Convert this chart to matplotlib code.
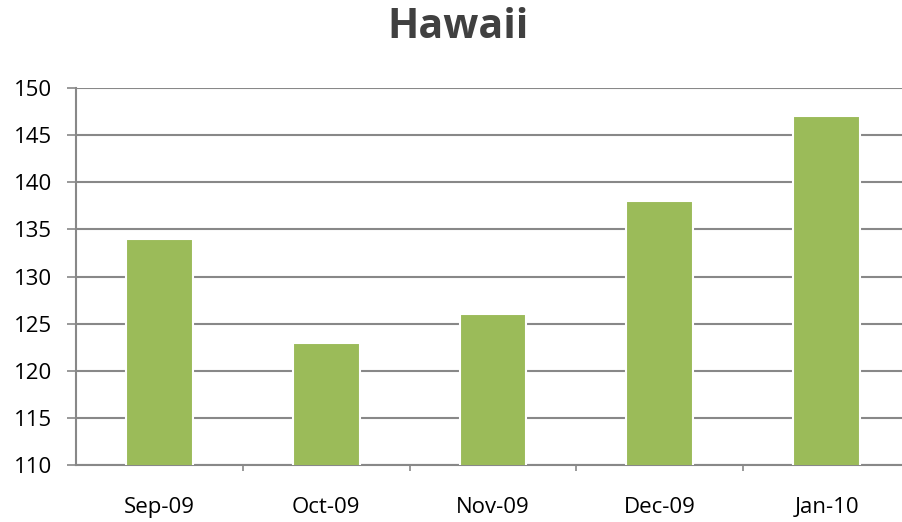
import matplotlib.pyplot as plt

# data
months = ["Sep-09", "Oct-09", "Nov-09", "Dec-09", "Jan-10"]
values = [134, 123, 126, 138, 147]
y_ticks = [110, 115, 120, 125, 130, 135, 140, 145, 150]

plt.rcParams["font.family"] = ["Open Sans", "DejaVu Sans"]

fig = plt.figure(figsize=(9.02, 5.22), dpi=100)
# plot area runs a little past the right edge, like the cropped original
ax = fig.add_axes([0.0843, 0.109, 0.9246, 0.7224])

x = list(range(len(months)))
ax.bar(x, values, width=0.4, color="#9BBB59", edgecolor="white",
       linewidth=1.5, zorder=3)

ax.set_ylim(110, 150)
ax.set_xlim(-0.5, len(months) - 0.5)
ax.set_yticks(y_ticks)
ax.set_xticks(x)
ax.set_xticklabels(months)

# category tick marks between groups
ax.set_xticks([i + 0.5 for i in range(len(months) - 1)], minor=True)
ax.tick_params(axis="x", which="major", length=0, pad=23, labelsize=16)
ax.tick_params(axis="x", which="minor", length=4.5, width=1.2, color="#888888")
ax.tick_params(axis="y", length=6.5, width=1.2, color="#888888", labelsize=16,
               pad=11)

ax.grid(axis="y", color="#888888", linewidth=1.5, zorder=0)

for side in ["top", "right"]:
    ax.spines[side].set_visible(False)
for side in ["left", "bottom"]:
    ax.spines[side].set_color("#888888")
    ax.spines[side].set_linewidth(1.5)

fig.text(0.508, 0.947, "Hawaii", ha="center", va="center",
         fontsize=29.5, fontweight="bold", color="#404040")

fig.savefig("out.png", dpi=100)
